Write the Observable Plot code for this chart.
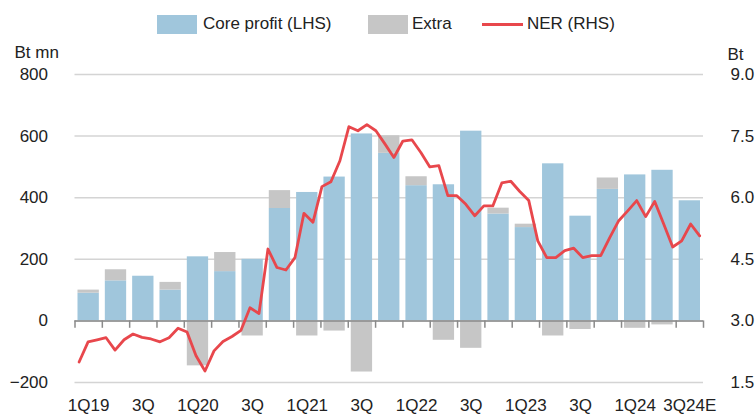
<!DOCTYPE html>
<html>
<head>
<meta charset="utf-8">
<script src="https://cdn.jsdelivr.net/npm/d3@7"></script>
<script src="https://cdn.jsdelivr.net/npm/@observablehq/plot@0.6"></script>
<style>
  html, body { margin: 0; padding: 0; background: #fff; }
  #wrap { position: relative; width: 755px; height: 417px; font-family: "Liberation Sans", Arial, sans-serif; color: #222; }
  #legend { position: relative; width: 755px; height: 34px; font-size: 17px; }
  #legend .sw { position: absolute; top: 15px; width: 40px; height: 19px; }
  #legend .ln { position: absolute; top: 23px; width: 41px; height: 3px; }
  #legend .tx { position: absolute; top: 14px; line-height: 20px; white-space: nowrap; }
</style>
</head>
<body>
<div id="wrap">
  <div id="legend">
    <div class="sw" style="left:157px;background:#a0c6dc"></div>
    <div class="tx" style="left:203px">Core profit (LHS)</div>
    <div class="sw" style="left:368px;background:#c6c6c6"></div>
    <div class="tx" style="left:412px">Extra</div>
    <div class="ln" style="left:482px;background:#e8474c"></div>
    <div class="tx" style="left:527px">NER (RHS)</div>
  </div>
  <div id="chart"></div>
</div>
<script>
// ---- Data ----
const quarters = ["1Q19","2Q19","3Q19","4Q19","1Q20","2Q20","3Q20","4Q20","1Q21","2Q21","3Q21","4Q21",
                  "1Q22","2Q22","3Q22","4Q22","1Q23","2Q23","3Q23","4Q23","1Q24","2Q24","3Q24E"];
const coreProfit = [90,130,145,100,208,160,200,365,417,467,607,544,439,442,616,347,303,510,340,427,474,489,390];
const extra      = [10,36,0,25,-146,62,-49,58,-49,-33,-166,57,29,-63,-89,19,11,-49,-28,37,-24,-13,0];
const xTickLabels = ["1Q19","3Q","1Q20","3Q","1Q21","3Q","1Q22","3Q","1Q23","3Q","1Q24","3Q24E"];
const leftTicks = [-200, 0, 200, 400, 600, 800];
const rightTickLabels = ["1.5","3.0","4.5","6.0","7.5","9.0"];
// NER (Bt), monthly readings
const ner = [2.00,2.49,2.54,2.59,2.29,2.54,2.68,2.60,2.56,2.49,2.59,2.82,
             2.73,2.15,1.78,2.27,2.50,2.62,2.77,3.32,3.18,4.75,4.30,4.24,
             4.54,5.62,5.40,6.27,6.39,6.90,7.73,7.63,7.78,7.63,7.31,6.98,
             7.38,7.41,7.10,6.75,6.78,6.05,6.05,5.84,5.56,5.80,5.80,6.36,
             6.40,6.15,5.93,4.95,4.54,4.54,4.71,4.77,4.54,4.59,4.59,5.03,
             5.44,5.68,5.93,5.54,5.91,5.36,4.80,4.95,5.36,5.07];

// ---- Derived tables ----
const bars = quarters.map((q, i) => ({q, i, core: coreProfit[i], extra: extra[i]}));
const extraBars = bars.filter(d => d.extra !== 0).map(d => ({
  i: d.i,
  lo: d.extra > 0 ? d.core : 0,
  hi: d.extra > 0 ? d.core + d.extra : d.extra
}));
// right axis mapping: 3.0 Bt <-> 0, 1.5 Bt per 200 Bt mn
const nerToLeft = v => (v - 3.0) * 200 / 1.5;
const lineFirst = 0.15, lineLast = 22.86;
const nerData = ner.map((v, m) => ({x: lineFirst + m * (lineLast - lineFirst) / (ner.length - 1), v}));
const xLabelPos = xTickLabels.map((_, k) => 2 * k + 0.5);
const xLabelMap = new Map(xLabelPos.map((p, k) => [p, xTickLabels[k]]));
const boundaries = d3.range(0, quarters.length + 1);

const chart = Plot.plot({
  width: 755,
  height: 383,
  marginTop: 40,
  marginBottom: 35,
  marginLeft: 74.5,
  marginRight: 52,
  x: {domain: [0, quarters.length]},
  y: {domain: [-200, 800]},
  style: {fontFamily: '"Liberation Sans", Arial, sans-serif', fontSize: "17px", color: "#222", background: "#fff", overflow: "visible"},
  marks: [
    Plot.gridY(leftTicks, {stroke: "#d4d4d4", strokeOpacity: 1, strokeWidth: 1.5}),
    Plot.rectY(bars, {x1: d => d.i, x2: d => d.i + 1, y1: 0, y2: "core", fill: "#a0c6dc", insetLeft: 3, insetRight: 3}),
    Plot.rectY(extraBars, {x1: d => d.i, x2: d => d.i + 1, y1: "lo", y2: "hi", fill: "#c6c6c6", insetLeft: 3, insetRight: 3}),
    Plot.ruleY([0], {stroke: "#8a8a8a", strokeWidth: 1.5}),
    Plot.ruleX(boundaries, {y1: 0, y2: -24, stroke: "#8a8a8a", strokeWidth: 1.5}),
    Plot.line(nerData, {x: "x", y: d => nerToLeft(d.v), stroke: "#e8474c", strokeWidth: 2.8, strokeLinejoin: "round"}),
    Plot.axisY({anchor: "left", ticks: leftTicks, tickSize: 0, tickPadding: 27, label: null, fontSize: 17}),
    Plot.axisY({anchor: "right", ticks: leftTicks, tickFormat: d => rightTickLabels[leftTicks.indexOf(d)], tickSize: 0, tickPadding: 27, label: null, fontSize: 17}),
    Plot.axisX({ticks: xLabelPos, tickFormat: d => xLabelMap.get(d), tickSize: 0, tickPadding: 16, label: null, fontSize: 17}),
    Plot.text(["Bt mn"], {frameAnchor: "top-left", textAnchor: "start", dx: -60.5, dy: -29, fontSize: 17}),
    Plot.text(["Bt"], {frameAnchor: "top-right", textAnchor: "start", dx: 24, dy: -27, fontSize: 17})
  ]
});
document.getElementById("chart").appendChild(chart);
</script>
</body>
</html>
